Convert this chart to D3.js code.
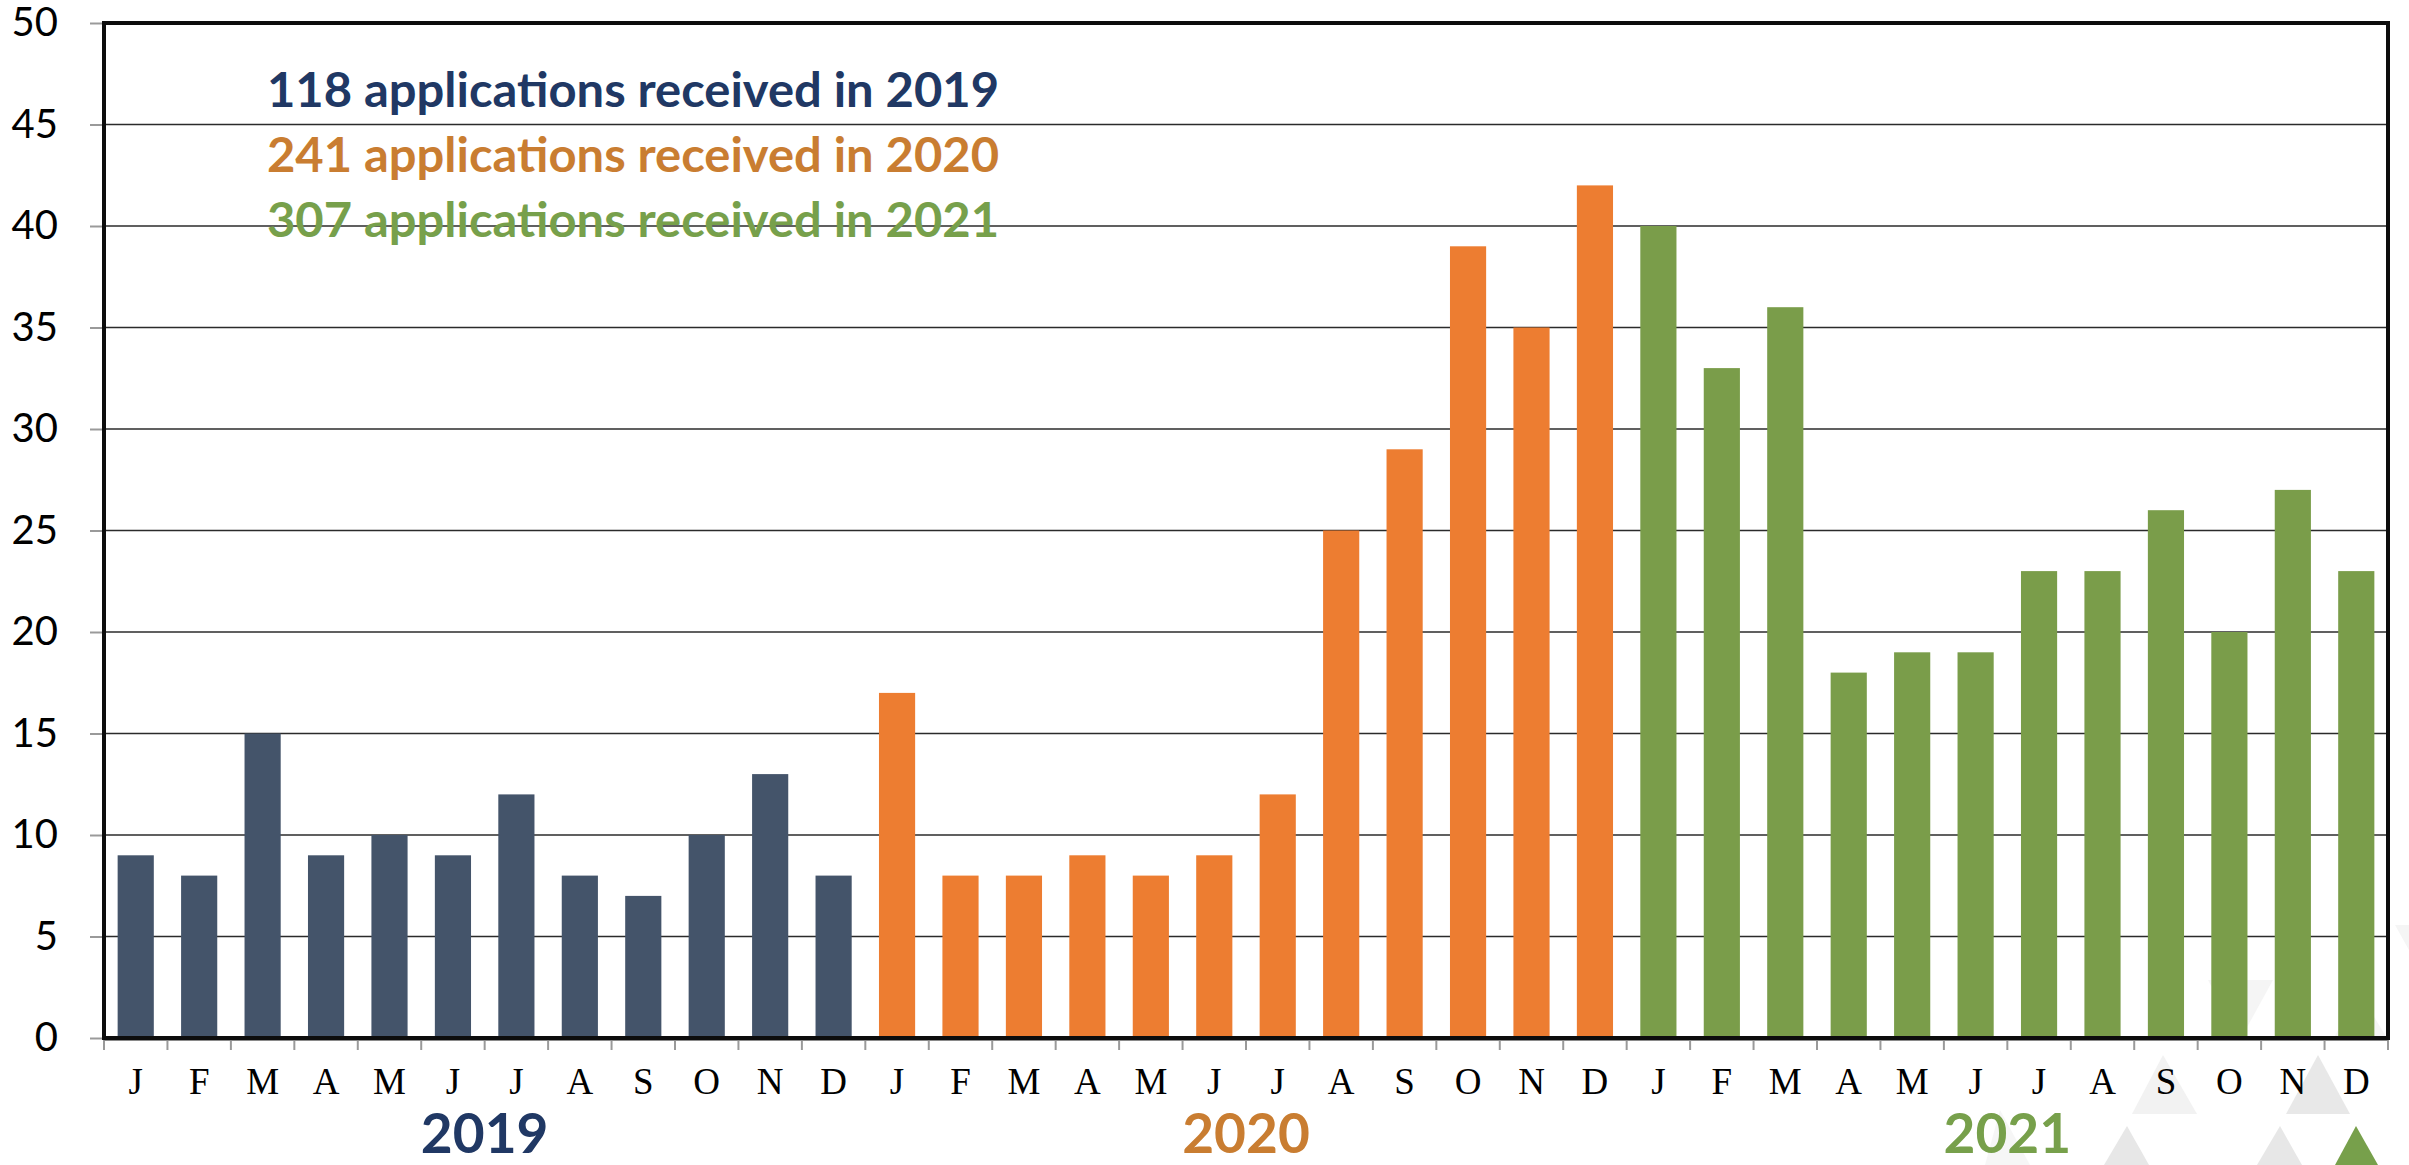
<!DOCTYPE html>
<html>
<head>
<meta charset="utf-8">
<script src="https://cdn.jsdelivr.net/npm/d3@7"></script>
<style>
  html, body { margin: 0; padding: 0; background: #ffffff; }
  svg { display: block; }
</style>
</head>
<body>
<svg id="chart" width="2409" height="1165"></svg>
<script>
// ---------- data ----------
const months = ["J","F","M","A","M","J","J","A","S","O","N","D"];
const years = ["2019", "2020", "2021"];
const values2019 = [9, 8, 15, 9, 10, 9, 12, 8, 7, 10, 13, 8];
const values2020 = [17, 8, 8, 9, 8, 9, 12, 25, 29, 39, 35, 42];
const values2021 = [40, 33, 36, 18, 19, 19, 23, 23, 26, 20, 27, 23];
const yTicks = [0, 5, 10, 15, 20, 25, 30, 35, 40, 45, 50];
const legendTexts = [
  "118 applications received in 2019",
  "241 applications received in 2020",
  "307 applications received in 2021"
];

// ---------- styles ----------
const barColors = ["#44546A", "#ED7D31", "#7A9D4A"];
const textColors = ["#203864", "#C97D31", "#77A04B"];

(function () {
const data = [];
[values2019, values2020, values2021].forEach((arr, yi) => {
  arr.forEach((v, mi) => data.push({ idx: yi * 12 + mi, year: yi, month: months[mi], value: v }));
});

const svg = d3.select("#chart");
const pl = 104, pr = 2388, pt = 23, pb = 1038;

const x = d3.scaleBand()
  .domain(d3.range(data.length))
  .range([pl, pr])
  .paddingInner(0.43)
  .paddingOuter(0.215);
const y = d3.scaleLinear().domain([0, 50]).range([pb, pt]);

// faint decorative triangles (behind everything)
const deco = svg.append("g");
const tri = (g, pts, fill) => g.append("polygon").attr("points", pts.map(p => p.join(",")).join(" ")).attr("fill", fill);
tri(deco, [[2208, 980], [2273, 980], [2240, 1040]], "#F5F5F5");
tri(deco, [[2358, 990], [2333, 1040], [2388, 1040]], "#F5F5F5");
tri(deco, [[2395, 925], [2409, 925], [2409, 950]], "#F5F5F5");
tri(deco, [[2000, 1110], [1985, 1165], [2030, 1165]], "#F6F6F6");

// gridlines
svg.append("g")
  .selectAll("line")
  .data(yTicks.filter(t => t > 0 && t < 50))
  .join("line")
  .attr("x1", pl).attr("x2", pr)
  .attr("y1", d => y(d)).attr("y2", d => y(d))
  .attr("stroke", "#2b2b2b").attr("stroke-width", 1.6);

// bars
svg.append("g")
  .selectAll("rect")
  .data(data)
  .join("rect")
  .attr("x", d => x(d.idx))
  .attr("width", x.bandwidth())
  .attr("y", d => y(d.value))
  .attr("height", d => y(0) - y(d.value))
  .attr("fill", d => barColors[d.year]);

// y axis ticks + labels
const yAxis = d3.axisLeft(y).tickValues(yTicks).tickSize(14).tickPadding(32).tickFormat(d3.format("d"));
const gy = svg.append("g").attr("transform", `translate(${pl},0)`).call(yAxis);
gy.select(".domain").remove();
gy.selectAll(".tick line").attr("stroke", "#9a9a9a").attr("stroke-width", 2);
gy.selectAll(".tick text")
  .attr("font-family", "Lato, 'Open Sans', sans-serif")
  .attr("font-size", 40)
  .attr("fill", "#000");

// x boundary ticks
const step = x.step();
svg.append("g")
  .selectAll("line")
  .data(d3.range(data.length + 1))
  .join("line")
  .attr("x1", i => pl + i * step).attr("x2", i => pl + i * step)
  .attr("y1", pb).attr("y2", pb + 12)
  .attr("stroke", "#9a9a9a").attr("stroke-width", 2);

// frame
svg.append("rect")
  .attr("x", pl).attr("y", pt)
  .attr("width", pr - pl).attr("height", pb - pt)
  .attr("fill", "none").attr("stroke", "#0d0d0d").attr("stroke-width", 4);
svg.append("line")
  .attr("x1", pl).attr("x2", pr).attr("y1", pb + 2.5).attr("y2", pb + 2.5)
  .attr("stroke", "#8a8a8a").attr("stroke-width", 1.2);

// foreground decorative triangles (bottom right)
const fg = svg.append("g");
tri(fg, [[2163, 1055], [2132, 1114], [2197, 1114]], "#F2F2F2");
tri(fg, [[2318, 1055], [2286, 1114], [2350, 1114]], "#E8E8E8");
tri(fg, [[2127, 1126], [2104, 1165], [2149, 1165]], "#E7E7E7");
tri(fg, [[2280, 1126], [2257, 1165], [2302, 1165]], "#E7E7E7");
tri(fg, [[2356, 1126], [2335, 1165], [2378, 1165]], "#77A04B");

// month labels
svg.append("g")
  .selectAll("text")
  .data(data)
  .join("text")
  .attr("x", d => x(d.idx) + x.bandwidth() / 2)
  .attr("y", 1094)
  .attr("text-anchor", "middle")
  .attr("font-family", "'Liberation Serif', 'Times New Roman', serif")
  .attr("font-size", 37)
  .attr("fill", "#000")
  .text(d => d.month);

// year labels (centered at the middle of each year's 12 months)
svg.append("g")
  .selectAll("text")
  .data(years)
  .join("text")
  .attr("x", (d, i) => pl + (i * 12 + 6) * step)
  .attr("y", 1153)
  .attr("text-anchor", "middle")
  .attr("font-family", "Lato, 'Open Sans', sans-serif")
  .attr("font-weight", "bold")
  .attr("font-size", 55)
  .attr("fill", (d, i) => textColors[i])
  .text(d => d);

// annotation lines
svg.append("g")
  .selectAll("text")
  .data(legendTexts)
  .join("text")
  .attr("x", 267)
  .attr("y", (d, i) => 107 + i * 65)
  .attr("font-family", "Lato, 'Open Sans', sans-serif")
  .attr("font-weight", "bold")
  .attr("font-size", 47)
  .attr("textLength", 732)
  .attr("lengthAdjust", "spacingAndGlyphs")
  .attr("fill", (d, i) => textColors[i])
  .text(d => d);
})();
</script>
</body>
</html>
